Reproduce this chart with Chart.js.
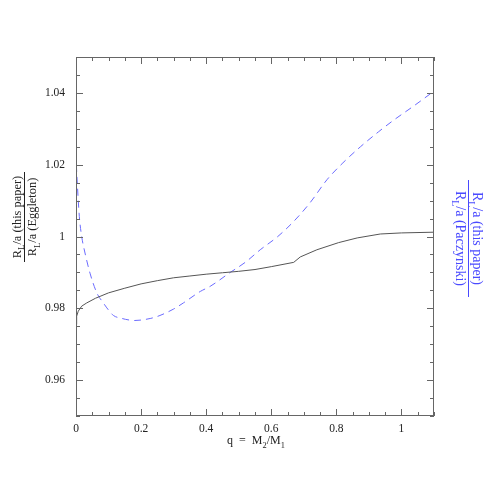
<!DOCTYPE html>
<html>
<head>
<meta charset="utf-8">
<script src="https://cdn.jsdelivr.net/npm/chart.js@4.4.1/dist/chart.umd.min.js"></script>
<style>
  html, body { margin: 0; padding: 0; background: #fff; }
  #wrap { width: 491px; height: 491px; }
</style>
</head>
<body>
<div id="wrap"><canvas id="rocheChart" width="491" height="491"></canvas></div>
<script>
// Eggleton comparison (solid)
const qEggleton = [0, 0.002, 0.007, 0.0175, 0.033, 0.06, 0.1, 0.15, 0.2, 0.25, 0.3, 0.35, 0.4, 0.45, 0.5, 0.55, 0.6, 0.669, 0.689, 0.74, 0.807, 0.864, 0.935, 1.0, 1.1];
const ratioEggleton = [0.9755, 0.9778, 0.9792, 0.9806, 0.9815, 0.9828, 0.9843, 0.9856, 0.9868, 0.9877, 0.9885, 0.989, 0.9895, 0.9899, 0.9903, 0.9908, 0.9916, 0.9928, 0.9943, 0.9963, 0.9983, 0.9996, 1.0007, 1.001, 1.0012];

// Paczynski comparison (dashed)
const qPaczynski = [0.001, 0.004, 0.0102, 0.0175, 0.0277, 0.043, 0.064, 0.084, 0.1, 0.115, 0.14, 0.166, 0.18, 0.197, 0.23, 0.258, 0.3, 0.33, 0.382, 0.412, 0.474, 0.52, 0.566, 0.62, 0.669, 0.72, 0.771, 0.82, 0.874, 0.93, 0.976, 1.04, 1.1];
const ratioPaczynski = [1.02, 1.0148, 1.0056, 1.0, 0.9954, 0.9898, 0.9843, 0.9815, 0.9795, 0.978, 0.9772, 0.9767, 0.9766, 0.9767, 0.9772, 0.978, 0.9798, 0.9815, 0.9847, 0.9861, 0.99, 0.9928, 0.9963, 1.0, 1.0042, 1.0095, 1.0158, 1.0205, 1.025, 1.0292, 1.0324, 1.0365, 1.0405];

const xTicks = [0, 0.2, 0.4, 0.6, 0.8, 1];
const xTickLabels = ['0', '0.2', '0.4', '0.6', '0.8', '1'];
const yTicks = [0.96, 0.98, 1, 1.02, 1.04];
const yTickLabels = ['0.96', '0.98', '1', '1.02', '1.04'];

const SERIF = '"Liberation Serif", "DejaVu Serif", serif';
const FRAME = '#666';
const BLUE = '#6b6bff';

function toPoints(xs, ys) {
    return xs.map((x, i) => ({ x: x, y: ys[i] }));
}

// draws text made of pieces, some of them subscripts, centred on cx
function drawPieces(ctx, pieces, cx, baseY, size) {
    const widths = pieces.map(p => {
        ctx.font = (p.sub ? size * 0.7 : size) + 'px ' + SERIF;
        return ctx.measureText(p.t).width;
    });
    const total = widths.reduce((a, b) => a + b, 0);
    let x = cx - total / 2;
    ctx.textAlign = 'left';
    ctx.textBaseline = 'alphabetic';
    pieces.forEach((p, i) => {
        ctx.font = (p.sub ? size * 0.7 : size) + 'px ' + SERIF;
        ctx.fillText(p.t, x, p.sub ? baseY + size * 0.3 : baseY);
        x += widths[i];
    });
}

function drawFraction(ctx, top, bottom, x0, y0, angle, size, barLen, color) {
    ctx.save();
    ctx.translate(x0, y0);
    ctx.rotate(angle);
    ctx.fillStyle = color;
    ctx.strokeStyle = color;
    drawPieces(ctx, top, 0, -4, size);
    drawPieces(ctx, bottom, 0, size * 0.8 + 1.5, size);
    ctx.lineWidth = 1;
    ctx.beginPath();
    ctx.moveTo(-barLen / 2, 0);
    ctx.lineTo(barLen / 2, 0);
    ctx.stroke();
    ctx.restore();
}

const framePlugin = {
    id: 'framePlugin',
    afterDraw(chart) {
        const ctx = chart.ctx;
        const a = chart.chartArea;
        const xs = chart.scales.x;
        const ys = chart.scales.y;
        ctx.save();
        ctx.strokeStyle = FRAME;
        ctx.lineWidth = 1;
        ctx.strokeRect(Math.round(a.left) + 0.5, Math.round(a.top) + 0.5, Math.round(a.right - a.left) - 1, Math.round(a.bottom - a.top) - 1);

        // inward ticks on all four sides
        ctx.beginPath();
        for (let i = 0; i <= 22; i++) {
            const v = i * 0.05;
            const len = i % 4 === 0 ? 7 : 4;
            const px = Math.round(xs.getPixelForValue(v)) + 0.5;
            ctx.moveTo(px, a.bottom); ctx.lineTo(px, a.bottom - len);
            ctx.moveTo(px, a.top); ctx.lineTo(px, a.top + len);
        }
        for (let i = 0; i <= 20; i++) {
            const v = 0.95 + i * 0.005;
            const len = i % 4 === 2 ? 7 : 4;
            const py = Math.round(ys.getPixelForValue(v)) + 0.5;
            ctx.moveTo(a.left, py); ctx.lineTo(a.left + len, py);
            ctx.moveTo(a.right, py); ctx.lineTo(a.right - len, py);
        }
        ctx.stroke();

        // x title
        ctx.fillStyle = '#222';
        drawPieces(ctx, [
            { t: 'q  =  M' }, { t: '2', sub: true }, { t: '/M' }, { t: '1', sub: true }
        ], (a.left + a.right) / 2 + 1, 444, 12);

        // left y title
        drawFraction(ctx,
            [{ t: 'R' }, { t: 'L', sub: true }, { t: '/a (this paper)' }],
            [{ t: 'R' }, { t: 'L', sub: true }, { t: '/a (Eggleton)' }],
            24.5, 217, -Math.PI / 2, 12.4, 90, '#222');

        // right y title
        drawFraction(ctx,
            [{ t: 'R' }, { t: 'L', sub: true }, { t: '/a (this paper)' }],
            [{ t: 'R' }, { t: 'L', sub: true }, { t: '/a (Paczynski)' }],
            468.5, 238.5, Math.PI / 2, 14, 117, '#4a4aff');
        ctx.restore();
    }
};

new Chart(document.getElementById('rocheChart'), {
    type: 'line',
    data: {
        datasets: [
            {
                label: 'Eggleton',
                data: toPoints(qEggleton, ratioEggleton),
                borderColor: '#555',
                borderWidth: 1,
                pointRadius: 0,
                tension: 0,
                fill: false
            },
            {
                label: 'Paczynski',
                data: toPoints(qPaczynski, ratioPaczynski),
                borderColor: BLUE,
                borderWidth: 1,
                borderDash: [7, 5],
                pointRadius: 0,
                cubicInterpolationMode: 'monotone',
                fill: false
            }
        ]
    },
    options: {
        responsive: false,
        animation: false,
        layout: { padding: { top: 57, right: 57, left: 0, bottom: 0 } },
        plugins: {
            legend: { display: false },
            tooltip: { enabled: false },
            title: { display: false }
        },
        scales: {
            x: {
                type: 'linear',
                min: 0,
                max: 1.1,
                grid: { display: false, drawTicks: false },
                border: { display: false },
                afterBuildTicks: s => { s.ticks = xTicks.map(v => ({ value: v })); },
                afterFit: s => { s.height = 75; },
                ticks: {
                    padding: 6,
                    maxRotation: 0,
                    color: '#222',
                    font: { family: SERIF, size: 11.5 },
                    callback: (v, i) => xTickLabels[i]
                }
            },
            y: {
                type: 'linear',
                min: 0.95,
                max: 1.05,
                grid: { display: false, drawTicks: false },
                border: { display: false },
                afterBuildTicks: s => { s.ticks = yTicks.map(v => ({ value: v })); },
                afterFit: s => { s.width = 76; },
                ticks: {
                    padding: 11,
                    color: '#222',
                    font: { family: SERIF, size: 11.5 },
                    callback: (v, i) => yTickLabels[i]
                }
            }
        }
    },
    plugins: [framePlugin]
});
</script>
</body>
</html>
